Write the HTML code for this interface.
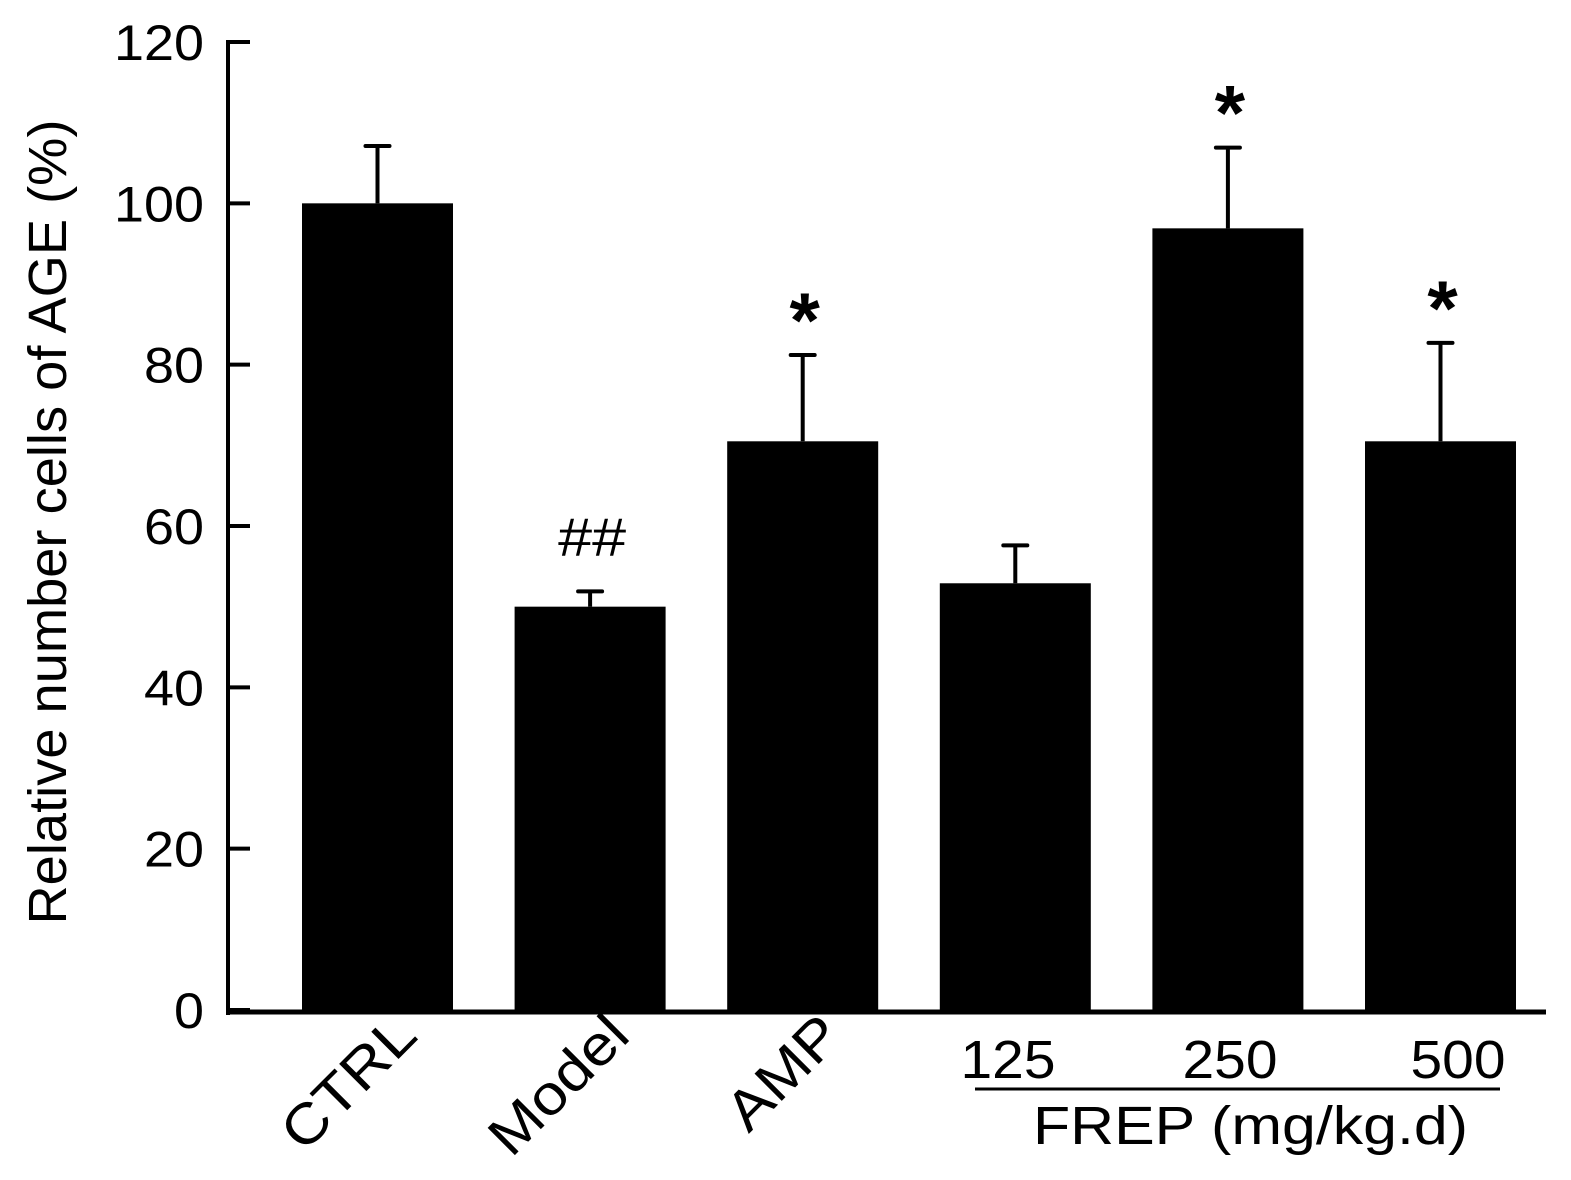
<!DOCTYPE html>
<html><head><meta charset="utf-8"><style>
html,body{margin:0;padding:0;background:#fff;}
svg text{font-family:"Liberation Sans",Arial,sans-serif;fill:#000;}
</style></head><body>
<svg id="svg" width="1571" height="1175" viewBox="0 0 1571 1175" xmlns="http://www.w3.org/2000/svg">
<g id="plot"></g>
<text x="0" y="0" font-size="54" text-anchor="middle" textLength="805" lengthAdjust="spacingAndGlyphs" transform="translate(66,522) rotate(-90)">Relative number cells of AGE (%)</text>
<line x1="975" y1="1089" x2="1500" y2="1089" stroke="#000" stroke-width="3"/>
<text x="1033" y="1144" font-size="54" textLength="435" lengthAdjust="spacingAndGlyphs">FREP (mg/kg.d)</text>
<script>
const categories=["CTRL","Model","AMP","125","250","500"];
const values=[100,50,70.5,52.9,96.9,70.5];
const errors=[7.1,1.9,10.7,4.7,10,12.2];
const marks=["","##","*","","*","*"];
const yTicks=[0,20,40,60,80,100,120];
const x0=228,y0=1010,pxPerUnit=(1010-42)/120;
const barLeft0=302,barStep=212.6,barW=151;
function yScale(v){return y0-v*pxPerUnit;}
function xLeft(i){return barLeft0+i*barStep;}
const NS="http://www.w3.org/2000/svg";
const g=document.getElementById('plot');
function mk(t,a){const e=document.createElementNS(NS,t);for(const k in a)e.setAttribute(k,a[k]);g.appendChild(e);return e;}
const numLabelX=[1008,1230,1458];
categories.forEach((c,i)=>{
  const l=xLeft(i),cx=l+barW/2,top=yScale(values[i]),et=yScale(values[i]+errors[i]);
  const b=mk('rect',{x:l,y:top,width:barW,height:y0-top,fill:'#000'});
  
  
  const e=mk('line',{x1:cx,y1:top,x2:cx,y2:et,stroke:'#000','stroke-width':4});
  
  
  const cap=mk('line',{x1:cx-12,y1:et,x2:cx+12,y2:et,stroke:'#000','stroke-width':4,'stroke-linecap':'round'});
  
  
  if(marks[i]){
    const isStar=marks[i]==='*';
    const m=mk('text',{x:cx+2,y:isStar?et-8:et-36,'font-size':isStar?78:54,'font-weight':isStar?'bold':'normal','text-anchor':'middle'});
    m.textContent=marks[i];
    if(!isStar){m.setAttribute('textLength','68');m.setAttribute('lengthAdjust','spacingAndGlyphs');}
    
    
  }
  let t;
  if(i<3){
    t=mk('text',{x:0,y:0,'font-size':56,'text-anchor':'end',transform:'translate('+(cx+42)+',1038) rotate(-45)'});
    t.textContent=c;
    const n=t.getComputedTextLength();
    t.setAttribute('textLength',n*1.12);
    t.setAttribute('lengthAdjust','spacingAndGlyphs');
  }else{
    t=mk('text',{x:numLabelX[i-3],y:1078,'font-size':54,'text-anchor':'middle',textLength:95,lengthAdjust:'spacingAndGlyphs'});
    t.textContent=c;
  }
  
  
});
yTicks.forEach(v=>{
  const y=yScale(v);
  const tk=mk('line',{x1:x0,y1:y,x2:250,y2:y,stroke:'#000','stroke-width':4});
  
  
  const t=mk('text',{x:204,y:y+18,'font-size':50,'text-anchor':'end'});
  t.textContent=v;
  t.setAttribute('textLength',String(v).length*30);
  t.setAttribute('lengthAdjust','spacingAndGlyphs');
  
  
});
const ya=mk('line',{x1:x0,y1:40,x2:x0,y2:1015,stroke:'#000','stroke-width':4});


const xa=mk('line',{x1:226,y1:1012,x2:1546,y2:1012,stroke:'#000','stroke-width':5});


</script>
</svg>
</body></html>
